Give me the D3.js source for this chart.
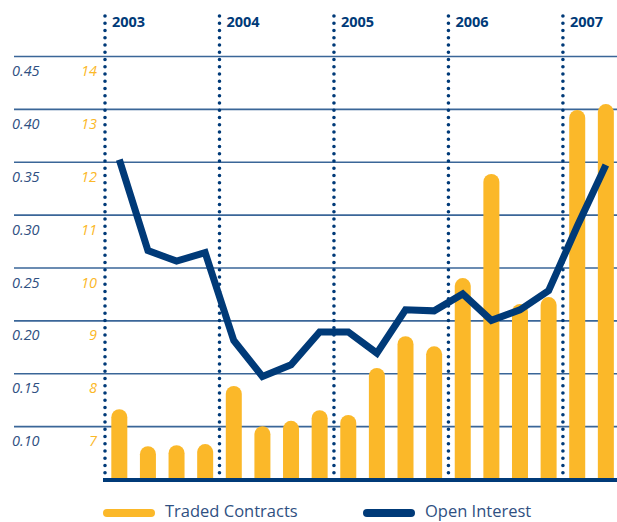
<!DOCTYPE html>
<html>
<head>
<meta charset="utf-8">
<script src="https://cdn.jsdelivr.net/npm/d3@7"></script>
<style>
  html, body { margin: 0; padding: 0; background: #fff; }
  svg { display: block; font-family: "Open Sans", "Noto Sans", sans-serif; }
</style>
</head>
<body>
<svg id="chart" width="617" height="522"></svg>
<script>
const years = ["2003", "2004", "2005", "2006", "2007"];
const quarters = ["2003Q1", "2003Q2", "2003Q3", "2003Q4", "2004Q1", "2004Q2", "2004Q3", "2004Q4",
  "2005Q1", "2005Q2", "2005Q3", "2005Q4", "2006Q1", "2006Q2", "2006Q3", "2006Q4", "2007Q1", "2007Q2"];
const tradedContracts = [7.32, 6.62, 6.64, 6.66, 7.76, 7.00, 7.10, 7.30, 7.21, 8.10, 8.70, 8.51,
  9.80, 11.77, 9.31, 9.44, 12.98, 13.09];
const openInterest = [0.352, 0.266, 0.256, 0.264, 0.181, 0.147, 0.158, 0.189, 0.189, 0.169, 0.210, 0.209,
  0.225, 0.200, 0.210, 0.228, 0.289, 0.347];
const contractTicks = [7, 8, 9, 10, 11, 12, 13, 14];
const interestTicks = [0.10, 0.15, 0.20, 0.25, 0.30, 0.35, 0.40, 0.45];

const yellow = "#fbb829";
const navy = "#003a78";
const gridColor = "#3a6698";
const labelBlue = "#2f5082";

const svg = d3.select("#chart");
const left = 105, bandW = 28.62, baseY = 479, topY = 56;

const x = d3.scaleBand().domain(quarters).range([left, left + bandW * quarters.length]).padding(0);
const yBar = d3.scaleLinear().domain([6, 14]).range([baseY, topY]);
const yLine = d3.scaleLinear().domain([0.05, 0.45]).range([baseY, topY]);

// gridlines
const grid = svg.append("g").attr("transform", "translate(14,0)")
  .call(d3.axisRight(yBar).tickValues(contractTicks).tickSize(617 - 14).tickFormat(""));
grid.select(".domain").remove();
grid.selectAll("line").attr("stroke", gridColor).attr("stroke-width", 1.6);

// left labels, sitting just below each gridline
svg.append("g").selectAll("text")
  .data(interestTicks)
  .join("text")
  .attr("x", 12).attr("y", d => yLine(d) + 20)
  .attr("font-size", 14.5).attr("font-style", "italic")
  .attr("fill", labelBlue)
  .text(d => d.toFixed(2));

svg.append("g").selectAll("text")
  .data(contractTicks)
  .join("text")
  .attr("x", 97).attr("y", d => yBar(d) + 20)
  .attr("text-anchor", "end")
  .attr("font-size", 14.5).attr("font-style", "italic")
  .attr("fill", yellow)
  .text(d => d);

// dotted year separators
const yearStarts = years.map(y => y + "Q1");
svg.append("g").selectAll("line")
  .data(yearStarts)
  .join("line")
  .attr("x1", d => x(d)).attr("x2", d => x(d))
  .attr("y1", 16).attr("y2", 476)
  .attr("stroke", navy).attr("stroke-width", 3.6)
  .attr("stroke-linecap", "round")
  .attr("stroke-dasharray", "0 7.25");

svg.append("g").selectAll("text")
  .data(years)
  .join("text")
  .attr("x", d => x(d + "Q1") + 7).attr("y", 27)
  .attr("font-size", 14.5).attr("font-weight", 700)
  .attr("fill", navy)
  .text(d => d);

// bars with rounded tops
const barW = 16, r = barW / 2;
svg.append("g").selectAll("path")
  .data(quarters.map((q, i) => ({ q, v: tradedContracts[i] })))
  .join("path")
  .attr("fill", yellow)
  .attr("d", d => {
    const cx = x(d.q) + x.bandwidth() / 2;
    const top = yBar(d.v);
    return `M${cx - r},${baseY} V${top + r} A${r},${r} 0 0 1 ${cx + r},${top + r} V${baseY} Z`;
  });

// open interest line
const line = d3.line()
  .x((d, i) => x(quarters[i]) + x.bandwidth() / 2)
  .y(d => yLine(d));
svg.append("path")
  .datum(openInterest)
  .attr("fill", "none")
  .attr("stroke", navy)
  .attr("stroke-width", 7)
  .attr("stroke-linejoin", "miter")
  .attr("stroke-linecap", "butt")
  .attr("d", line);

// baseline
svg.append("line")
  .attr("x1", 103).attr("x2", 617).attr("y1", baseY + 1).attr("y2", baseY + 1)
  .attr("stroke", navy).attr("stroke-width", 4);

// legend
const legendItems = [
  { label: "Traded Contracts", color: yellow, x: 107 },
  { label: "Open Interest", color: navy, x: 367 }
];
const lg = svg.append("g").selectAll("g").data(legendItems).join("g");
lg.append("line")
  .attr("x1", d => d.x).attr("x2", d => d.x + 44)
  .attr("y1", 513).attr("y2", 513)
  .attr("stroke", d => d.color).attr("stroke-width", 8)
  .attr("stroke-linecap", "round");
lg.append("text")
  .attr("x", d => d.x + 58).attr("y", 517)
  .attr("font-size", 16.5)
  .attr("fill", labelBlue)
  .text(d => d.label);
</script>
</body>
</html>
